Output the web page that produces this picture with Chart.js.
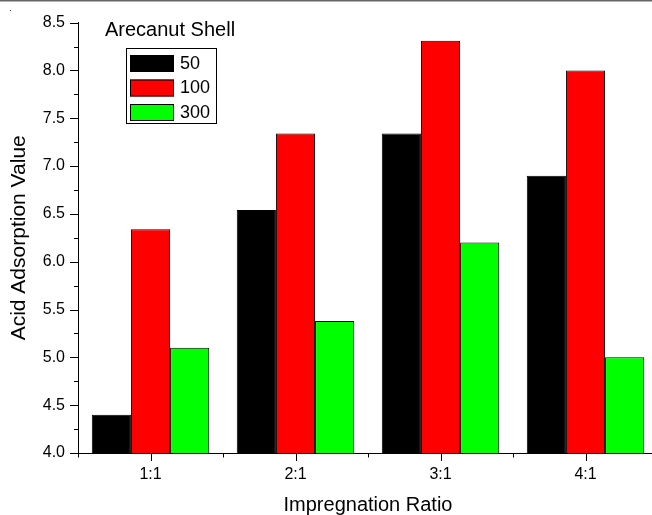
<!DOCTYPE html>
<html>
<head>
<meta charset="utf-8">
<script src="https://cdn.jsdelivr.net/npm/chart.js@4/dist/chart.umd.min.js"></script>
<style>
  html, body { margin: 0; padding: 0; background: #fff; overflow: hidden; }
  #wrap { position: relative; width: 660px; height: 515px; }
</style>
</head>
<body>
<div id="wrap"><canvas id="c"></canvas></div>
<script>
const categories = ['1:1', '2:1', '3:1', '4:1'];
const seriesNames = ['50', '100', '300'];
const values50 = [4.40, 6.54, 7.34, 6.90];
const values100 = [6.34, 7.34, 8.31, 8.00];
const values300 = [5.10, 5.38, 6.20, 5.00];
const seriesColors = ['#000000', '#ff0000', '#00ff00'];
const legendTitle = 'Arecanut Shell';
const xTitle = 'Impregnation Ratio';
const yTitle = 'Acid Adsorption Value';
const yMin = 4.0, yMax = 8.5, yStep = 0.5, yMinorStep = 0.25;

const FONT = "'Liberation Sans', Arial, sans-serif";

const decor = {
  id: 'decor',
  afterDraw(chart) {
    const ctx = chart.ctx;
    const x = chart.scales.x, y = chart.scales.y;
    const area = chart.chartArea;
    ctx.save();
    ctx.fillStyle = '#666';
    ctx.fillRect(0, 0, chart.width, 1.5);
    ctx.fillStyle = '#444';
    ctx.fillRect(10, 10, 1, 1);

    ctx.strokeStyle = '#000';
    ctx.lineWidth = 1;
    for (let v = yMin; v <= yMax + 1e-9; v += yMinorStep) {
      const py = Math.round(y.getPixelForValue(v)) + 0.5;
      const major = Math.abs(v / yStep - Math.round(v / yStep)) < 1e-6;
      const len = major ? 8 : 4;
      ctx.beginPath();
      ctx.moveTo(area.left - len, py);
      ctx.lineTo(area.left, py);
      ctx.stroke();
    }
    const n = categories.length;
    for (let i = 0; i < n; i++) {
      const px = Math.round(x.getPixelForValue(i)) + 0.5;
      ctx.beginPath();
      ctx.moveTo(px, area.bottom);
      ctx.lineTo(px, area.bottom + 8);
      ctx.stroke();
    }
    for (let i = 0; i <= n; i++) {
      const px = Math.round(x.getPixelForValue(i - 0.5)) + 0.5;
      ctx.beginPath();
      ctx.moveTo(px, area.bottom);
      ctx.lineTo(px, area.bottom + 4.5);
      ctx.stroke();
    }

    ctx.fillStyle = '#000';
    ctx.font = '20px ' + FONT;
    ctx.textBaseline = 'middle';
    ctx.textAlign = 'left';
    ctx.fillText(legendTitle, 105, 30);

    const bx = 126.5, by = 48.5, bw = 90, bh = 75;
    ctx.strokeStyle = '#000';
    ctx.strokeRect(bx, by, bw, bh);
    ctx.font = '18px ' + FONT;
    chart.data.datasets.forEach((ds, i) => {
      const sy = 55 + i * 24.5;
      ctx.fillStyle = ds.backgroundColor;
      ctx.fillRect(130, sy, 44, 17);
      ctx.strokeStyle = '#000';
      ctx.strokeRect(130.5, sy + 0.5, 43, 16);
      ctx.fillStyle = '#000';
      ctx.fillText(ds.label, 180, sy + 9);
    });
    ctx.restore();
  }
};

new Chart(document.getElementById('c'), {
  type: 'bar',
  data: {
    labels: categories,
    datasets: [
      { label: seriesNames[0], data: values50, backgroundColor: seriesColors[0] },
      { label: seriesNames[1], data: values100, backgroundColor: seriesColors[1] },
      { label: seriesNames[2], data: values300, backgroundColor: seriesColors[2] }
    ].map(d => Object.assign(d, {
      borderColor: '#000', borderWidth: 1,
      barPercentage: 1.0, categoryPercentage: 0.81
    }))
  },
  options: {
    responsive: true,
    maintainAspectRatio: false,
    animation: false,
    layout: { padding: { top: 22, right: 2, left: 0, bottom: 0 } },
    plugins: { legend: { display: false }, tooltip: { enabled: false } },
    scales: {
      x: {
        grid: { display: false, drawTicks: false },
        border: { display: true, color: '#000', width: 1 },
        ticks: { color: '#000', font: { family: FONT, size: 16 }, padding: 12, maxRotation: 0 },
        title: { display: true, text: xTitle, color: '#000', font: { family: FONT, size: 20 }, padding: { top: 0, bottom: -2 } },
        afterFit(s) { s.height = 62; }
      },
      y: {
        min: yMin, max: yMax,
        grid: { display: false, drawTicks: false },
        border: { display: true, color: '#000', width: 1 },
        ticks: {
          stepSize: yStep, color: '#000', padding: 13,
          font: { family: FONT, size: 16 },
          callback: v => Number(v).toFixed(1)
        },
        title: { display: true, text: yTitle, color: '#000', font: { family: FONT, size: 21 }, padding: { top: 7, bottom: 0 } },
        afterFit(s) { s.width = 78; }
      }
    }
  },
  plugins: [decor]
});
</script>
</body>
</html>
